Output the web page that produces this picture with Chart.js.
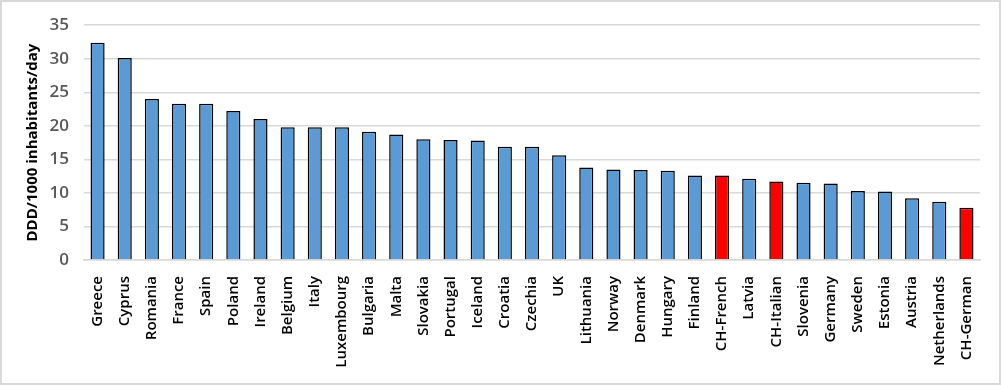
<!DOCTYPE html>
<html><head><meta charset="utf-8">
<script src="https://cdn.jsdelivr.net/npm/chart.js@4/dist/chart.umd.min.js"></script>
<style>html,body{margin:0;padding:0;background:#fff}#w{width:1001px;height:385px;position:relative}</style>
</head><body><div id="w"><canvas id="c" width="1001" height="385"></canvas></div>
<script>
const categories = ["Greece","Cyprus","Romania","France","Spain","Poland","Ireland","Belgium","Italy","Luxembourg","Bulgaria","Malta","Slovakia","Portugal","Iceland","Croatia","Czechia","UK","Lithuania","Norway","Denmark","Hungary","Finland","CH-French","Latvia","CH-Italian","Slovenia","Germany","Sweden","Estonia","Austria","Netherlands","CH-German"];
const values = [32.4,30.1,24.0,23.3,23.3,22.2,21.0,19.8,19.8,19.8,19.1,18.7,18.0,17.9,17.8,16.9,16.9,15.6,13.8,13.5,13.4,13.3,12.6,12.6,12.1,11.7,11.5,11.4,10.3,10.2,9.2,8.7,7.8];
const highlighted = ["CH-French","CH-Italian","CH-German"];
const yTicks = [0,5,10,15,20,25,30,35];
const yTitle = "DDD/1000 inhabitants/day";

const colors = categories.map(c => highlighted.includes(c) ? "#ff0000" : "#5b9bd5");
const frame = {id:"frame", afterDraw(ch){const x=ch.ctx;x.save();x.strokeStyle="#d9d9d9";x.lineWidth=2;x.strokeRect(1,1,ch.width-2,ch.height-2);x.restore();}};
new Chart(document.getElementById("c"), {
  type: "bar",
  data: {labels: categories, datasets: [{data: values, backgroundColor: colors, borderColor: "#000", borderWidth: 1.5, categoryPercentage: 1, barPercentage: 0.52}]},
  options: {
    responsive: false, animation: false, devicePixelRatio: 1,
    layout: {padding: {left: 24, right: 21, top: 22, bottom: 0}},
    plugins: {legend: {display: false}, tooltip: {enabled: false}},
    scales: {
      x: {
        grid: {display: false},
        border: {color: "#d9d9d9", width: 1.5},
        ticks: {autoSkip: false, maxRotation: 90, minRotation: 90, color: "#000", font: {family: "Open Sans", size: 15, weight: "600"}, padding: 8},
        afterFit(s){ s.height = 125; }
      },
      y: {
        min: 0, max: 35,
        afterBuildTicks(s){ s.ticks = yTicks.map(v => ({value: v})); },
        grid: {color: "#d9d9d9", lineWidth: 1.5, drawTicks: false},
        border: {display: false},
        ticks: {color: "#595959", font: {family: "Open Sans", size: 17, weight: "600"}, padding: 15},
        title: {display: true, text: yTitle, color: "#000", font: {family: "Open Sans", size: 15, weight: "bold"}, padding: 0},
        afterFit(s){ s.width = 60; }
      }
    }
  },
  plugins: [frame]
});
</script></body></html>
